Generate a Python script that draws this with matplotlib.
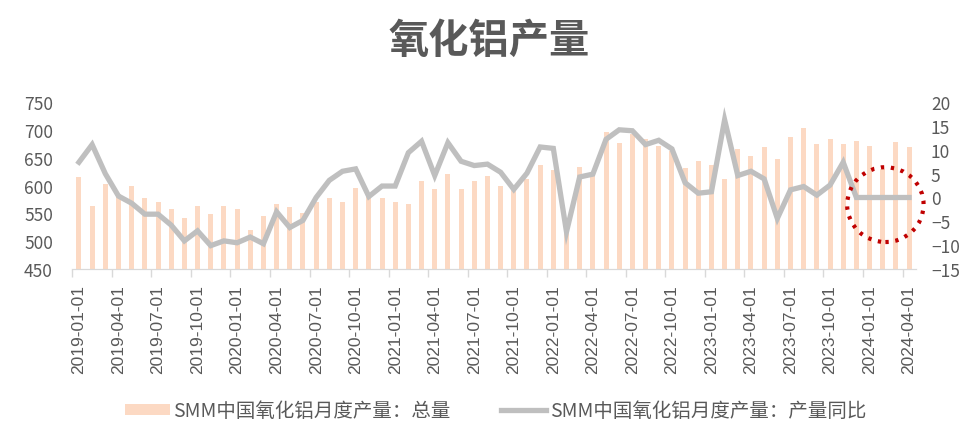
import numpy as np
import matplotlib
matplotlib.use('Agg')
import matplotlib.pyplot as plt
from matplotlib.patches import Ellipse, Patch
from matplotlib.lines import Line2D

plt.rcParams['font.family'] = ['Noto Sans CJK SC', 'DejaVu Sans']

# 月份
months = [f'{y}-{m:02d}-01' for y in range(2019, 2025) for m in range(1, 13)][:64]

# SMM中国氧化铝月度产量：总量
total = [615, 564, 602, 585, 599, 577, 570, 558, 542, 564, 548, 564,
         558, 520, 545, 566, 561, 551, 570, 577, 570, 596, 579, 577,
         570, 567, 608, 593, 621, 593, 608, 617, 599, 594, 612, 637,
         628, 525, 634, 622, 697, 676, 693, 684, 672, 662, 631, 644,
         637, 612, 666, 653, 669, 647, 688, 703, 675, 684, 675, 681,
         672, 630, 678, 669]

# SMM中国氧化铝月度产量：产量同比
yoy = [7.4, 11.1, 5.0, 0.3, -1.2, -3.5, -3.5, -5.8, -9.1, -7.0, -10.1, -9.1,
       -9.5, -8.3, -9.7, -3.0, -6.3, -4.8, 0.0, 3.6, 5.5, 6.0, 0.2, 2.4,
       2.4, 9.4, 11.8, 4.6, 11.5, 7.6, 6.7, 7.0, 5.3, 1.7, 5.1, 10.6,
       10.3, -7.2, 4.3, 4.9, 12.2, 14.2, 14.0, 11.1, 12.0, 10.2, 3.1, 0.9,
       1.2, 16.3, 4.6, 5.5, 3.9, -4.4, 1.6, 2.3, 0.5, 2.6, 7.4, 0.0,
       0.0, 0.0, 0.0, 0.0]

left_ticks = [450, 500, 550, 600, 650, 700, 750]
right_ticks = [-15, -10, -5, 0, 5, 10, 15, 20]

bar_color = '#fcd9c3'
line_color = '#bfbfbf'
text_color = '#595959'

x = np.arange(len(months))

fig = plt.figure(figsize=(9.7, 4.39), dpi=100)
ax = fig.add_axes([0.0746, 0.385, 0.8694, 0.38])
ax2 = ax.twinx()

ax.bar(x, total, width=0.38, color=bar_color, zorder=1)
ax2.plot(x, yoy, color=line_color, lw=3.8, solid_joinstyle='miter', zorder=2)

ax.set_xlim(-0.5, len(months) - 0.5)
ax.set_ylim(450, 750)
ax2.set_ylim(-15, 20)
ax.set_yticks(left_ticks)
ax2.set_yticks(right_ticks)

# x 轴刻度
ax.set_xticks(x[::3])
ax.set_xticklabels(months[::3], rotation=90, family='Liberation Sans',
                   fontsize=12.5, color=text_color)
ax.set_xticks(x[::3] - 0.5, minor=True)
ax.tick_params(axis='x', which='major', length=0, pad=11)
ax.tick_params(axis='x', which='minor', length=6, color='#d9d9d9', width=1)
ax.tick_params(axis='y', length=0, pad=14, labelsize=12.5, labelcolor=text_color)
ax2.tick_params(axis='y', length=0, pad=11, labelsize=12.5, labelcolor=text_color)

for a in (ax, ax2):
    for s in ['top', 'left', 'right']:
        a.spines[s].set_visible(False)
    a.spines['bottom'].set_color('#d9d9d9')

# 红色虚线圆圈
circ = Ellipse((61.2, -1.5), 5.8, 15.7, fill=False, edgecolor='#c00000',
               lw=3, linestyle=(0, (0.8, 1.6)), zorder=5, clip_on=False)
ax2.add_patch(circ)

fig.text(0.504, 0.905, '氧化铝产量', ha='center', va='center',
         fontsize=29, fontweight='bold', color=text_color)

handles = [Patch(facecolor=bar_color, edgecolor='none'),
           Line2D([0], [0], color=line_color, lw=3.8)]
labels = ['SMM中国氧化铝月度产量：总量', 'SMM中国氧化铝月度产量：产量同比']
fig.legend(handles, labels, loc='center', bbox_to_anchor=(0.511, 0.062), ncol=2,
           frameon=False, fontsize=14, labelcolor=text_color, handlelength=2.3,
           handleheight=0.5, handletextpad=0.2, columnspacing=2.6)

plt.savefig('out.png', dpi=100)
plt.close()
